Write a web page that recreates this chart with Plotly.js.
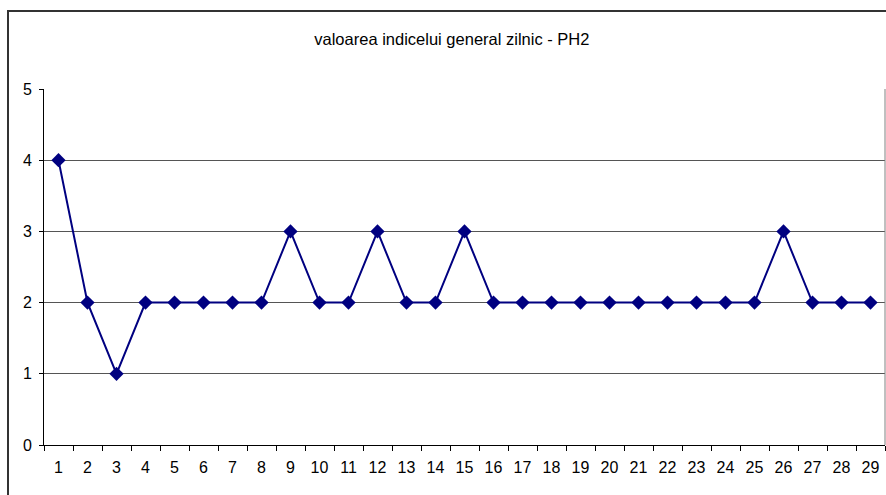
<!DOCTYPE html>
<html><head><meta charset="utf-8">
<script src="https://cdn.plot.ly/plotly-3.0.1.min.js"></script>
<style>
html,body{margin:0;padding:0;background:#fff;overflow:hidden;}
#frame{position:absolute;left:7px;top:10px;width:900px;height:500px;border:2px solid #333;box-sizing:border-box;}
#chart{position:absolute;left:0;top:0;width:886px;height:495px;}
</style></head>
<body>
<div id="frame"></div>
<div id="chart"></div>
<script>
const days = ["1","2","3","4","5","6","7","8","9","10","11","12","13","14","15","16","17","18","19","20","21","22","23","24","25","26","27","28","29"];
const values = [4,2,1,2,2,2,2,2,3,2,2,3,2,2,3,2,2,2,2,2,2,2,2,2,2,3,2,2,2];
const yTicks = [0,1,2,3,4,5];
const titleText = "valoarea indicelui general zilnic - PH2";

Plotly.newPlot('chart', [{
  x: days, y: values, type: 'scatter', mode: 'lines+markers',
  line: {color: '#000080', width: 2},
  marker: {symbol: 'diamond', size: 11, color: '#000080'},
  cliponaxis: false
}], {
  width: 886, height: 495,
  paper_bgcolor: 'rgba(0,0,0,0)', plot_bgcolor: 'rgba(0,0,0,0)',
  margin: {l: 44, r: 1, t: 89, b: 50},
  showlegend: false,
  font: {family: 'Liberation Sans, Arial, sans-serif', size: 16, color: '#000'},
  title: {text: titleText, x: 0.51, xref: 'container', xanchor: 'center', y: 0.92, yref: 'container', yanchor: 'middle',
          font: {size: 16.5, color: '#000', family: 'Liberation Sans, Arial, sans-serif'}},
  xaxis: {type: 'category', range: [-0.5, 28.5], tickson: 'boundaries', ticks: 'outside', ticklen: 5, tickcolor: '#000',
          showline: true, linecolor: '#000', linewidth: 1, showgrid: false, zeroline: false,
          tickfont: {size: 16}, ticklabelstandoff: 8, fixedrange: true},
  yaxis: {range: [0, 5], tickvals: yTicks, ticks: 'outside', ticklen: 4, tickcolor: '#000',
          showline: true, linecolor: '#000', linewidth: 1, showgrid: true, gridcolor: '#555555', gridwidth: 1,
          zeroline: false, tickfont: {size: 16}, ticklabelstandoff: 4, fixedrange: true},
  shapes: [{type: 'line', xref: 'paper', yref: 'paper', x0: 1, x1: 1, y0: 0, y1: 1, line: {color: '#808080', width: 1}}]
}, {displayModeBar: false, staticPlot: true});
</script>
</body></html>
